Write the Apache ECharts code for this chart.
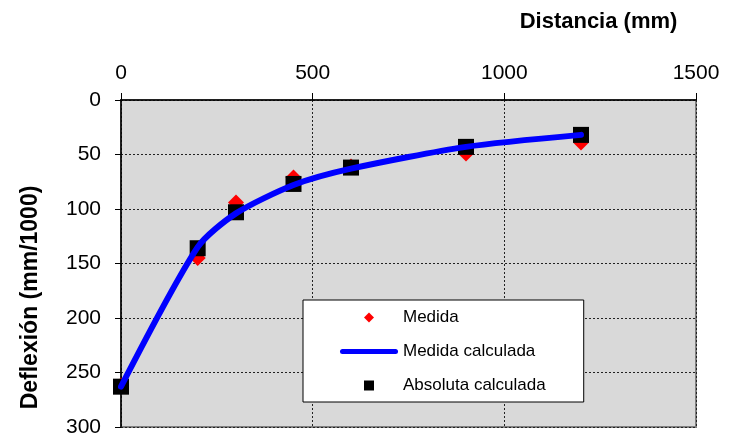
<!DOCTYPE html>
<html>
<head>
<meta charset="utf-8">
<script src="https://cdn.jsdelivr.net/npm/echarts@6/dist/echarts.min.js"></script>
<style>
  html, body { margin: 0; padding: 0; background: #fff; }
  #chart { width: 730px; height: 441px; }
</style>
</head>
<body>
<div id="chart"></div>
<script>
let distancias = [0, 200, 300, 450, 600, 900, 1200];
let medida = [262, 145, 94, 71, 61, 49, 39];
let medidaCalculada = [263, 135, 104, 78, 63, 43, 32];
let absolutaCalculada = [263, 136, 103, 77, 62, 43, 32];
let xTicks = [0, 500, 1000, 1500];
let yTicks = [0, 50, 100, 150, 200, 250, 300];

let fuente = 'Arial, "Liberation Sans", sans-serif';
let pares = (ys) => distancias.map((x, i) => [x, ys[i]]);

let myChart = echarts.init(document.getElementById('chart'));

option = {
    animation: false,
    textStyle: { fontFamily: fuente },
    grid: {
        left: 121,
        top: 100,
        right: 34,
        bottom: 14,
        show: true,
        backgroundColor: '#d9d9d9',
        borderColor: '#808080',
        borderWidth: 2
    },
    legend: {
        orient: 'vertical',
        left: 303,
        top: 300,
        padding: [9, 38, 8, 37],
        itemGap: 17,
        itemWidth: 58,
        itemHeight: 10,
        symbolKeepAspect: true,
        backgroundColor: '#fff',
        borderColor: '#000',
        borderWidth: 1,
        borderRadius: 0,
        textStyle: { fontSize: 17, color: '#000', fontFamily: fuente },
        data: [
            { name: 'Medida', icon: 'path://M5,0 L10,5 L5,10 L0,5 Z' },
            { name: 'Medida calculada', icon: 'path://M2.5,0 H55.5 A2.5,2.5 0 0 1 55.5,5 H2.5 A2.5,2.5 0 0 1 2.5,0 Z' },
            { name: 'Absoluta calculada', icon: 'path://M0,0 H10 V10 H0 Z' }
        ]
    },
    xAxis: {
        type: 'value',
        position: 'top',
        min: xTicks[0],
        max: xTicks[xTicks.length - 1],
        interval: 500,
        name: 'Distancia (mm)',
        nameLocation: 'middle',
        nameGap: 67,
        nameTextStyle: {
            fontSize: 22, fontWeight: 'bold', color: '#000', fontFamily: fuente,
            padding: [0, 0, 0, 380]
        },
        axisLine: { show: true, lineStyle: { color: '#000', width: 1.5 } },
        axisTick: { show: true, length: 7, lineStyle: { color: '#000' } },
        axisLabel: {
            fontSize: 21, color: '#000', margin: 16, fontFamily: fuente,
            formatter: (v) => String(v)
        },
        splitLine: { show: true, lineStyle: { color: '#222', type: [2, 2], width: 1 } }
    },
    yAxis: {
        type: 'value',
        inverse: true,
        min: yTicks[0],
        max: yTicks[yTicks.length - 1],
        interval: 50,
        name: 'Deflexión (mm/1000)',
        nameLocation: 'middle',
        nameRotate: 90,
        nameGap: 79,
        nameTextStyle: {
            fontSize: 23, fontWeight: 'bold', color: '#000', fontFamily: fuente,
            padding: [0, 68, 0, 0]
        },
        axisLine: { show: true, lineStyle: { color: '#000', width: 1.5 } },
        axisTick: { show: true, length: 6, lineStyle: { color: '#000' } },
        axisLabel: { fontSize: 21, color: '#000', margin: 20, fontFamily: fuente },
        splitLine: { show: true, lineStyle: { color: '#222', type: [2, 2], width: 1 } }
    },
    series: [{
        name: 'Medida',
        type: 'scatter',
        symbol: 'diamond',
        symbolSize: 16,
        itemStyle: { color: '#ff0000', opacity: 1 },
        data: pares(medida)
    }, {
        name: 'Medida calculada',
        type: 'line',
        smooth: 0.25,
        showSymbol: false,
        symbol: 'none',
        lineStyle: { color: '#0000ff', width: 6, cap: 'round' },
        itemStyle: { color: '#0000ff' },
        data: pares(medidaCalculada)
    }, {
        name: 'Absoluta calculada',
        type: 'scatter',
        symbol: 'rect',
        symbolSize: 16,
        itemStyle: { color: '#000', opacity: 1 },
        data: pares(absolutaCalculada)
    }]
};

myChart.setOption(option);
</script>
</body>
</html>
